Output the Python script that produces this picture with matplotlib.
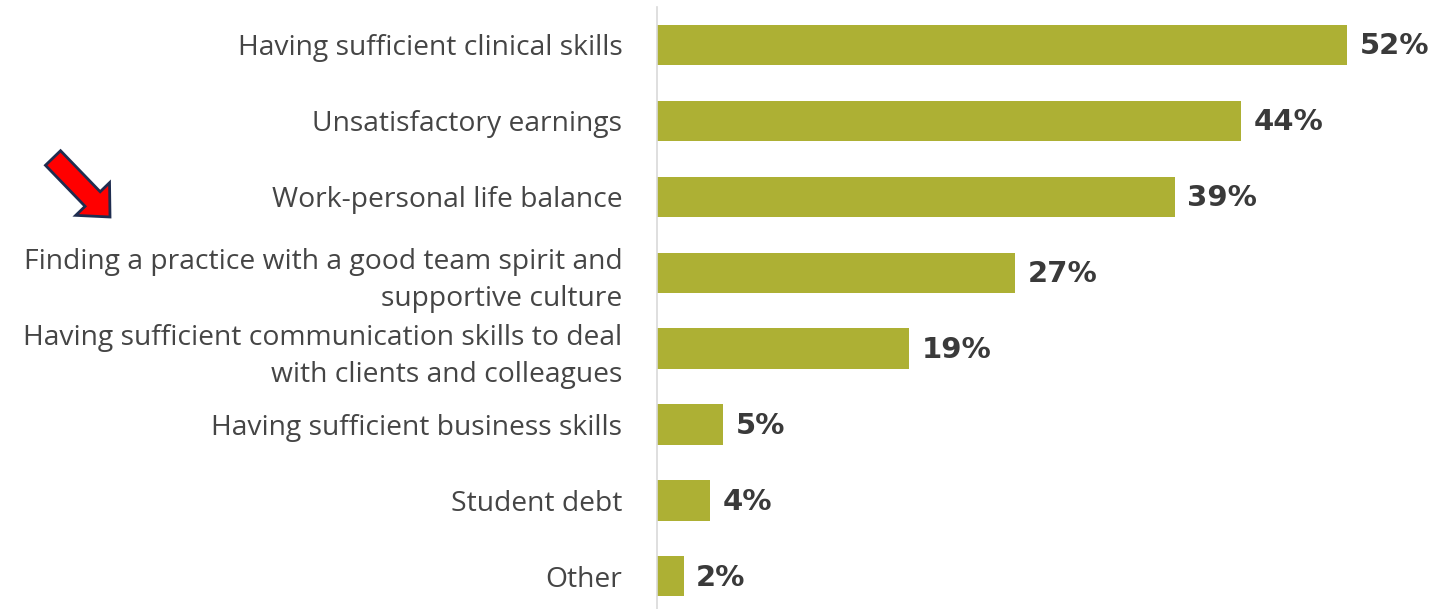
import matplotlib.pyplot as plt
from matplotlib.patches import FancyArrow

plt.rcParams['font.family'] = ['Open Sans', 'DejaVu Sans']

# Data
categories = ['Having sufficient clinical skills',
              'Unsatisfactory earnings',
              'Work-personal life balance',
              'Finding a practice with a good team spirit and\nsupportive culture',
              'Having sufficient communication skills to deal\nwith clients and colleagues',
              'Having sufficient business skills',
              'Student debt',
              'Other']
values = [52, 44, 39, 27, 19, 5, 4, 2]

bar_color = '#adb034'
text_color = '#454545'

fig = plt.figure(figsize=(14.55, 6.09), dpi=100)
ax = fig.add_axes([657 / 1455, 0, 783 / 1455, 602 / 609])

y = range(len(categories))
bars = ax.barh(y, values, height=0.53, color=bar_color)
ax.set_ylim(7.43, -0.5)
ax.set_xlim(0, 59)

ax.set_yticks(list(y))
ax.set_yticklabels(categories, fontsize=20.3, color=text_color, linespacing=1.4)
ax.tick_params(axis='y', length=0, pad=25)
ax.set_xticks([])

for s in ['top', 'right', 'bottom']:
    ax.spines[s].set_visible(False)
ax.spines['left'].set_color('#d9d9d9')
ax.spines['left'].set_linewidth(1.2)

# value labels
for bar, v in zip(bars, values):
    ax.annotate(f'{v}%', xy=(bar.get_width(), bar.get_y() + bar.get_height() / 2),
                xytext=(9, -1), textcoords='offset points', ha='left', va='center',
                fontsize=21, fontweight='bold', color='#3a3a3a', family='DejaVu Sans')

# red arrow pointing at the team spirit label (drawn in inches so it keeps its shape)
arrow = FancyArrow(0.53, 6.09 - 1.58, 0.57, -0.59,
                   width=0.21, head_width=0.47, head_length=0.25,
                   length_includes_head=True, transform=fig.dpi_scale_trans,
                   facecolor='#ff0000', edgecolor='#1f2d50', linewidth=2)
fig.patches.append(arrow)

plt.savefig('out.png')
